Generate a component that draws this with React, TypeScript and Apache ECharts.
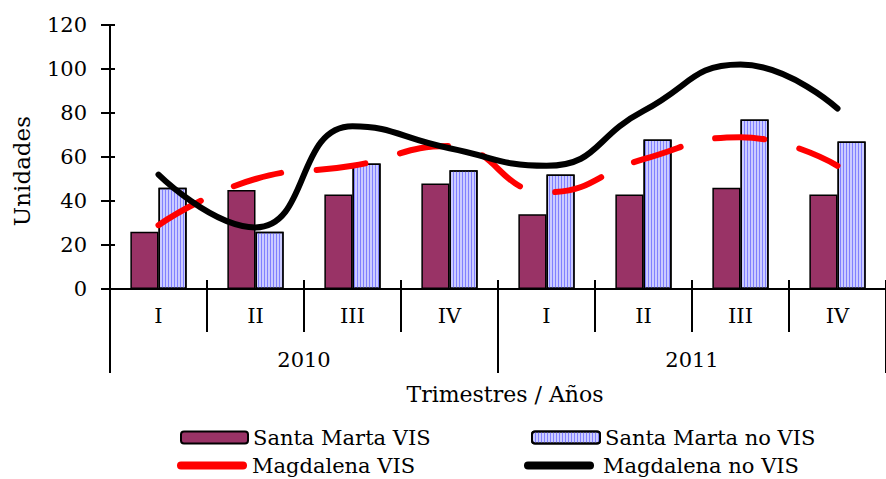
import React, { useEffect, useRef } from "react";
import * as echarts from "echarts";

const quarters = ["I", "II", "III", "IV", "I", "II", "III", "IV"];
const years = ["2010", "2011"];
const santaMartaVIS = [26, 45, 43, 48, 34, 43, 46, 43];
const santaMartaNoVIS = [46, 26, 57, 54, 52, 68, 77, 67];
const magdalenaVIS = [29, 50, 56, 65, 44, 59, 69, 56];
const magdalenaNoVIS = [52, 28, 74, 64, 56, 81, 102, 82];
const yTicks = { min: 0, max: 120, interval: 20 };

const FONT = "DejaVu Serif";
const STADIUM = "path://M4,0 H66 A4,4 0 0 1 66,8 H4 A4,4 0 0 1 4,0 Z";

export default function App() {
  const ref = useRef<HTMLDivElement>(null);
  useEffect(() => {
    if (!ref.current) return;
    const chart = echarts.init(ref.current, null, { renderer: "svg" });
    const txt = { fontFamily: FONT, fontSize: 21, color: "#000" };
    const legendBase = {
      orient: "horizontal",
      itemHeight: 12,
      textStyle: { ...txt },
      padding: 0,
    };
    chart.setOption({
      animation: false,
      backgroundColor: "#fff",
      grid: { left: 110, right: -8, top: 25, bottom: 190, containLabel: false },
      xAxis: [
        {
          type: "category",
          data: quarters,
          position: "bottom",
          axisLine: { lineStyle: { color: "#000", width: 2 } },
          axisTick: { show: true, length: 43, interval: 0, lineStyle: { color: "#000", width: 2 } },
          axisLabel: { ...txt, margin: 16, interval: 0 },
        },
        {
          type: "category",
          data: quarters,
          position: "bottom",
          offset: 0,
          axisLine: { show: false },
          axisTick: { show: true, inside: true, length: 9, interval: 0, lineStyle: { color: "#000", width: 2 } },
          axisLabel: { show: false },
        },
        {
          type: "category",
          data: years,
          position: "bottom",
          offset: 0,
          axisLine: { show: false },
          axisTick: { show: true, length: 84, interval: 0, lineStyle: { color: "#000", width: 2 } },
          axisLabel: { ...txt, margin: 60, interval: 0 },
          name: "Trimestres / Años",
          nameLocation: "middle",
          nameGap: 94,
          nameTextStyle: { ...txt, fontSize: 22, padding: [0, 0, 0, 14] },
        },
      ],
      yAxis: [
        {
          type: "value",
          ...yTicks,
          axisLine: { show: true, lineStyle: { color: "#000", width: 2 } },
          axisTick: { show: true, length: 9, lineStyle: { color: "#000", width: 2 } },
          splitLine: { show: false },
          axisLabel: { ...txt, margin: 23 },
        },
        {
          type: "value",
          ...yTicks,
          position: "left",
          offset: 0,
          axisLine: { show: false },
          axisTick: { show: true, inside: true, length: 5, lineStyle: { color: "#000", width: 2 } },
          splitLine: { show: false },
          axisLabel: { show: false },
        },
      ],
      legend: [
        { ...legendBase, left: 180, top: 427, itemWidth: 67, itemGap: 9, data: [{ name: "Santa Marta VIS" }] },
        { ...legendBase, left: 531, top: 427, itemWidth: 68, itemGap: 8, data: [{ name: "Santa Marta no VIS" }] },
        {
          ...legendBase,
          left: 177,
          top: 455,
          itemWidth: 70,
          itemHeight: 8,
          itemGap: 10,
          data: [{ name: "Magdalena VIS", icon: STADIUM }],
        },
        {
          ...legendBase,
          left: 524,
          top: 455,
          itemWidth: 78,
          itemHeight: 8,
          itemGap: 2,
          data: [{ name: "Magdalena no VIS", icon: STADIUM }],
        },
      ],
      series: [
        {
          name: "Santa Marta VIS",
          type: "bar",
          data: santaMartaVIS,
          barGap: "0%",
          barCategoryGap: "42%",
          itemStyle: { color: "#993366", borderColor: "#000", borderWidth: 1.5 },
        },
        {
          name: "Santa Marta no VIS",
          type: "bar",
          data: santaMartaNoVIS,
          barGap: "0%",
          barCategoryGap: "42%",
          itemStyle: {
            color: "#ccccff",
            borderColor: "#000",
            borderWidth: 1.5,
            decal: {
              symbol: "rect",
              symbolSize: 1,
              color: "#8080ff",
              dashArrayX: [1, 2],
              dashArrayY: [4, 0],
              rotation: 0,
            },
          },
        },
        {
          name: "Magdalena VIS",
          type: "line",
          data: magdalenaVIS,
          smooth: 0.5,
          symbol: "none",
          z: 3,
          lineStyle: { color: "#ff0000", width: 6, type: [49, 36], cap: "round" },
          itemStyle: { color: "#ff0000" },
        },
        {
          name: "Magdalena no VIS",
          type: "line",
          data: magdalenaNoVIS,
          smooth: 0.5,
          symbol: "none",
          z: 4,
          lineStyle: { color: "#000", width: 6, cap: "round" },
          itemStyle: { color: "#000" },
        },
      ],
      graphic: [
        {
          type: "text",
          left: 10,
          top: 116,
          rotation: Math.PI / 2,
          style: { text: "Unidades", font: `23px '${FONT}'`, fill: "#000" },
        },
      ],
    });
    return () => chart.dispose();
  }, []);
  return (
    <div
      ref={ref}
      style={{ position: "fixed", left: 0, top: 0, width: 886, height: 479 }}
    />
  );
}
